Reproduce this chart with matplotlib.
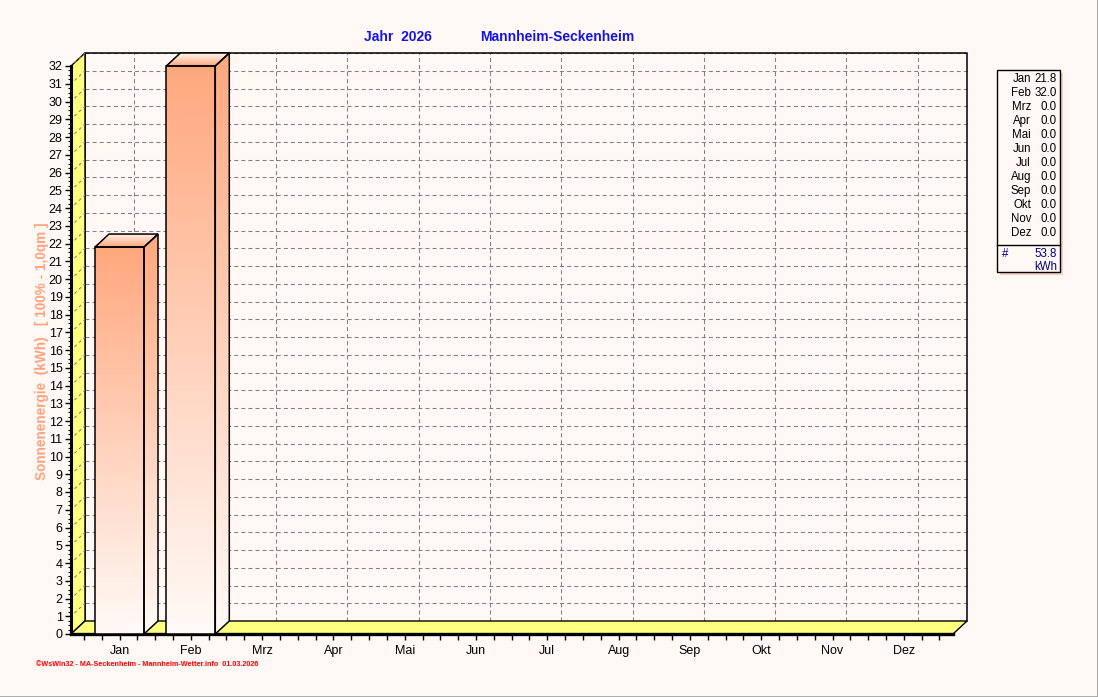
import numpy as np
import matplotlib
matplotlib.use("Agg")
import matplotlib.pyplot as plt
from matplotlib.patches import Polygon, Rectangle
from matplotlib.ticker import MultipleLocator
from matplotlib.colors import LinearSegmentedColormap

# ---------------- data ----------------
months = ['Jan', 'Feb', 'Mrz', 'Apr', 'Mai', 'Jun', 'Jul', 'Aug', 'Sep', 'Okt', 'Nov', 'Dez']
values = [21.8, 32.0, 0.0, 0.0, 0.0, 0.0, 0.0, 0.0, 0.0, 0.0, 0.0, 0.0]
yticks = list(range(0, 33))
total_label = '53.8'
unit_label = 'kWh'
title_left = 'Jahr  2026'
title_right = 'Mannheim-Seckenheim'
ylabel = 'Sonnenenergie  (kWh)   [ 100% - 1,0qm ]'
footer = '©WsWin32 - MA-Seckenheim - Mannheim-Wetter.info  01.03.2026'

# ---------------- style ----------------
W, H = 1098, 697
BG = '#FFF8F4'
YELLOW = '#FFFF80'
SALMON = '#FFA87E'
LIGHT = '#FFFAF7'
GRID = '#808080'
plt.rcParams['font.family'] = ['Liberation Sans', 'DejaVu Sans']
plt.rcParams['lines.scale_dashes'] = False

fig = plt.figure(figsize=(W / 100, H / 100), dpi=100, facecolor=BG)


def fx(x):
    return x / W


def fy(y):
    return 1 - y / H


# front plane in pixels
L, R, T, B = 71, 953, 66, 634
ax = fig.add_axes([fx(L), fy(B), (R - L) / W, (B - T) / H])
ax.set_facecolor('none')

cat_px0, cat_step = 119.5, 71.3
xmin = (L - cat_px0) / cat_step
xmax = (R - cat_px0) / cat_step
ymin, ymax = 0, 32
ax.set_xlim(xmin, xmax)
ax.set_ylim(ymin, ymax)
DX = 14 / cat_step
DY = 13 * (ymax - ymin) / (B - T)

x = np.arange(len(months))

# axes / ticks
for s in ['top', 'right']:
    ax.spines[s].set_visible(False)
ax.spines['left'].set_linewidth(2.2)
ax.spines['bottom'].set_linewidth(2.4)
ax.set_yticks(yticks)
ax.set_yticklabels([str(v) for v in yticks])
ax.yaxis.set_minor_locator(MultipleLocator(0.25))
ax.set_xticks(x)
ax.set_xticklabels(months)
ax.xaxis.set_minor_locator(MultipleLocator(0.25))
ax.tick_params(axis='y', which='major', length=4, width=1, pad=2, labelsize=9)
ax.tick_params(axis='y', which='minor', length=2, width=0.8)
ax.tick_params(axis='x', which='major', length=4, width=1, pad=4, labelsize=9)
ax.tick_params(axis='x', which='minor', length=4, width=1)

dash = (0, (2.9, 2.2))
# back wall grid
for v in yticks[1:]:
    ax.plot([xmin + DX, xmax + DX], [v + DY, v + DY], color=GRID, lw=0.75,
            linestyle=dash, clip_on=False, zorder=1)
    ax.plot([xmin, xmin + DX], [v, v + DY], color=GRID, lw=0.75,
            linestyle=(1, (2.2, 2.2)), clip_on=False, zorder=2.5)
for xi in x:
    ax.plot([xi + DX, xi + DX], [ymin + DY, ymax + DY], color=GRID, lw=0.75,
            linestyle=dash, clip_on=False, zorder=1)
# back wall border
ax.plot([xmin + DX, xmin + DX, xmax + DX, xmax + DX],
        [ymin + DY, ymax + DY, ymax + DY, ymin + DY], color='black', lw=1.1,
        clip_on=False, zorder=1.5)

# left wall
ax.add_patch(Polygon([[xmin, ymin], [xmin, ymax], [xmin + DX, ymax + DY], [xmin + DX, ymin + DY]],
                     closed=True, facecolor=YELLOW, edgecolor='black', lw=1.0,
                     clip_on=False, zorder=2))
# floor
ax.add_patch(Polygon([[xmin, ymin], [xmax, ymin], [xmax + DX, ymin + DY], [xmin + DX, ymin + DY]],
                     closed=True, facecolor=YELLOW, edgecolor='black', lw=1.0,
                     clip_on=False, zorder=2))

cmap_v = LinearSegmentedColormap.from_list('v', [LIGHT, SALMON])
cmap_top = LinearSegmentedColormap.from_list('t', [SALMON, '#FFF6F0'])


def grad_face(poly_pts, z, direction='v'):
    poly = Polygon(poly_pts, closed=True, facecolor='none', edgecolor='black', lw=1.1,
                   clip_on=False, zorder=z + 0.1)
    ax.add_patch(poly)
    pts = np.array(poly_pts)
    x0, x1 = pts[:, 0].min(), pts[:, 0].max()
    y0, y1 = pts[:, 1].min(), pts[:, 1].max()
    if direction == 'v':
        g = np.linspace(0, 1, 256).reshape(-1, 1)
        im = ax.imshow(g, cmap=cmap_v, origin='lower', extent=(x0, x1, y0, y1),
                       aspect='auto', interpolation='bilinear', zorder=z)
    else:
        g = np.linspace(0, 1, 64).reshape(-1, 1)
        im = ax.imshow(g, cmap=cmap_top, origin='lower', extent=(x0, x1, y0, y1),
                       aspect='auto', interpolation='bilinear', zorder=z)
    im.set_clip_path(poly)
    im.set_clip_box(fig.bbox)
    return im


bw = 49 / cat_step
for xi, v in zip(x, values):
    if v <= 0:
        continue
    l, r = xi - bw / 2, xi + bw / 2
    # front
    grad_face([[l, 0], [r, 0], [r, v], [l, v]], 3)
    # side
    grad_face([[r, 0], [r + DX, DY], [r + DX, v + DY], [r, v]], 3)
    # top
    grad_face([[l, v], [r, v], [r + DX, v + DY], [l + DX, v + DY]], 3, direction='t')

ax.set_xlim(xmin, xmax)
ax.set_ylim(ymin, ymax)

# titles
fig.text(fx(398), fy(37), title_left, color='#1414E6', fontsize=10, fontweight='bold',
         ha='center', va='center')
fig.text(fx(557), fy(37), title_right, color='#1414E6', fontsize=10, fontweight='bold',
         ha='center', va='center')
fig.text(fx(42), fy(351), ylabel, color='#FFA27C', fontsize=9.8, fontweight='bold',
         rotation=90, ha='center', va='center')
fig.text(fx(36), fy(665), footer, color='#FF0000', fontsize=5.2, fontweight='bold',
         ha='left', va='center')

# legend box
fig.patches.append(Rectangle((fx(1000), fy(275)), 63 / W, 202 / H, transform=fig.transFigure,
                             facecolor='#F8D2C0', edgecolor='none', zorder=5))
fig.patches.append(Rectangle((fx(997), fy(272)), 63 / W, 202 / H, transform=fig.transFigure,
                             facecolor=BG, edgecolor='black', lw=1.0, zorder=6))
fig.add_artist(plt.Line2D([fx(997), fx(1060)], [fy(245), fy(245)], transform=fig.transFigure,
                          color='black', lw=1.0, zorder=7))
for i, (m, v) in enumerate(zip(months, values)):
    yy = 79 + i * 13.97
    fig.text(fx(1031), fy(yy), m, fontsize=8.3, ha='right', va='center', zorder=8)
    fig.text(fx(1057), fy(yy), f'{v:.1f}', fontsize=8.3, ha='right', va='center', zorder=8)
fig.text(fx(1002), fy(254), '#', fontsize=8.3, color='#000080', ha='left', va='center', zorder=8)
fig.text(fx(1057), fy(254), total_label, fontsize=8.3, color='#000080', ha='right', va='center', zorder=8)
fig.text(fx(1057), fy(267), unit_label, fontsize=8.3, color='#000080', ha='right', va='center', zorder=8)

# outer frame lines (bottom/right)
fig.add_artist(plt.Line2D([0, fx(1097.5), fx(1097.5)], [fy(696.5), fy(696.5), 1],
                          transform=fig.transFigure, color='#A0A0A0', lw=1.2))

fig.savefig('out.png', dpi=100, facecolor=BG)
